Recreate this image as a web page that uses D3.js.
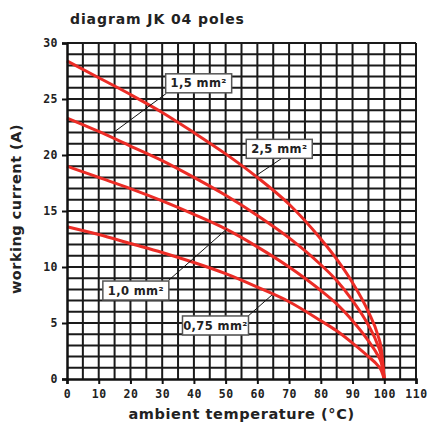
<!DOCTYPE html>
<html><head><meta charset="utf-8">
<script src="https://cdn.jsdelivr.net/npm/d3@7"></script>
<style>
html,body{margin:0;padding:0;background:#fff;}
svg{display:block;}
</style></head>
<body>
<script>
// ---- data ----
const temps = [0,10,20,30,40,50,60,70,80,85,90,95,98,99,100];
const s25  = [28.4,26.9,25.4,23.8,22.0,20.1,18.0,15.6,12.5,10.7,8.6,6.0,3.9,2.8,0];
const s15  = [23.3,22.1,20.8,19.5,18.0,16.4,14.6,12.6,10.2,8.8,7.0,4.8,3.0,2.1,0];
const s10  = [19.0,18.0,17.0,15.9,14.7,13.4,11.8,10.0,7.9,6.7,5.2,3.4,2.1,1.5,0];
const s075 = [13.6,12.9,12.1,11.3,10.4,9.4,8.2,6.9,5.2,4.3,3.2,2.0,1.2,0.8,0];
const seriesNames = ["2,5 mm²","1,5 mm²","1,0 mm²","0,75 mm²"];
const seriesValues = [s25, s15, s10, s075];
const xTicks = [0,10,20,30,40,50,60,70,80,90,100,110];
const yTicks = [0,5,10,15,20,25,30];
// label annotations: box centre (temp, current), leader start, leader end
const labelNames  = ["1,5 mm²","2,5 mm²","1,0 mm²","0,75 mm²"];
const labelCenter = [[41.5,26.4],[66.9,20.55],[21.7,7.9],[46.8,4.78]];
const leaderFrom  = [[31.3,25.5],[67.7,19.7],[32.0,8.8],[57.0,5.6]];
const leaderTo    = [[14.6,22.0],[59.8,18.2],[50.4,13.4],[64.6,7.5]];
const title = "diagram JK 04 poles";
const xTitle = "ambient temperature (°C)";
const yTitle = "working current (A)";

// ---- layout ----
const W = 430, H = 427;
const mLeft = 67, mTop = 43, mRight = 416, mBottom = 379;
const x = d3.scaleLinear().domain([0,110]).range([mLeft,mRight]);
const y = d3.scaleLinear().domain([0,30]).range([mBottom,mTop]);

const svg = d3.select("body").append("svg").attr("width",W).attr("height",H);
const gridColor = "#1a1a1a";
const red = "#ec2c26";
const monoFont = "'DejaVu Sans Mono', monospace";
const sansFont = "'DejaVu Sans', sans-serif";

// grid
const grid = svg.append("g");
grid.selectAll("line.v").data(d3.range(5,111,5)).join("line")
  .attr("x1",d=>x(d)).attr("x2",d=>x(d)).attr("y1",y(0)).attr("y2",y(30))
  .attr("stroke",gridColor).attr("stroke-width",2);
grid.selectAll("line.h").data(d3.range(1,31,1)).join("line")
  .attr("x1",x(0)).attr("x2",x(110)).attr("y1",d=>y(d)).attr("y2",d=>y(d))
  .attr("stroke",gridColor).attr("stroke-width",2);

// curves
const line = d3.line().x(d=>x(d[0])).y(d=>y(d[1])).curve(d3.curveMonotoneX);
svg.append("g").selectAll("path").data(seriesValues).join("path")
  .attr("d",vals=>line(temps.map((t,i)=>[t,vals[i]])))
  .attr("fill","none").attr("stroke",red).attr("stroke-width",3);

// axes
const xAxis = d3.axisBottom(x).tickValues(xTicks).tickSize(5).tickPadding(6).tickFormat(d3.format("d"));
const yAxis = d3.axisLeft(y).tickValues(yTicks).tickSize(5).tickPadding(4).tickFormat(d3.format("d"));
const gx = svg.append("g").attr("transform",`translate(0,${mBottom})`).call(xAxis);
const gy = svg.append("g").attr("transform",`translate(${mLeft},0)`).call(yAxis);
[gx,gy].forEach(g=>{
  g.select(".domain").attr("stroke","#111").attr("stroke-width",2.5);
  g.selectAll(".tick line").attr("stroke","#111").attr("stroke-width",2);
  g.selectAll(".tick text").attr("font-family",monoFont).attr("font-weight","bold")
    .attr("font-size",11.5).attr("fill","#222").attr("letter-spacing",0.5);
});

// leaders
svg.append("g").selectAll("line").data(labelNames).join("line")
  .attr("x1",(d,i)=>x(leaderFrom[i][0])).attr("y1",(d,i)=>y(leaderFrom[i][1]))
  .attr("x2",(d,i)=>x(leaderTo[i][0])).attr("y2",(d,i)=>y(leaderTo[i][1]))
  .attr("stroke","#111").attr("stroke-width",1);

// label boxes
const lg = svg.append("g").selectAll("g").data(labelNames).join("g")
  .attr("transform",(d,i)=>`translate(${x(labelCenter[i][0])},${y(labelCenter[i][1])})`);
lg.append("rect").attr("x",-33).attr("y",-9.5).attr("width",66).attr("height",19)
  .attr("fill","#fff").attr("stroke","#555").attr("stroke-width",1.5);
lg.append("text").text(d=>d).attr("text-anchor","middle").attr("dy","0.36em")
  .attr("font-family",sansFont).attr("font-weight","bold").attr("font-size",11.5)
  .attr("letter-spacing",0.4).attr("fill","#222");

// titles
svg.append("text").text(title).attr("x",70).attr("y",24)
  .attr("font-family",sansFont).attr("font-weight","bold").attr("font-size",14)
  .attr("letter-spacing",0.9).attr("fill","#222");
svg.append("text").text(xTitle).attr("x",241.5).attr("y",419).attr("text-anchor","middle")
  .attr("font-family",sansFont).attr("font-weight","bold").attr("font-size",14.5)
  .attr("letter-spacing",0.6).attr("fill","#222");
svg.append("text").text(yTitle).attr("transform","translate(21,209) rotate(-90)").attr("text-anchor","middle")
  .attr("font-family",sansFont).attr("font-weight","bold").attr("font-size",14.5)
  .attr("letter-spacing",0.5).attr("fill","#222");
</script>
</body></html>
